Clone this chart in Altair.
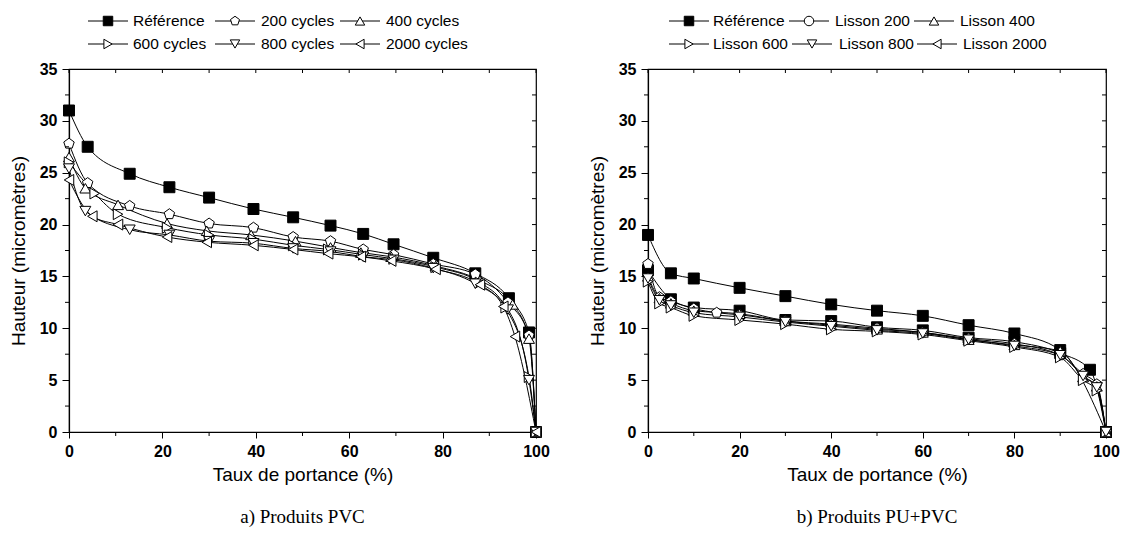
import altair as alt
import pandas as pd

# ---------------- data ----------------
pvc_names = ["Référence", "200 cycles", "400 cycles", "600 cycles", "800 cycles", "2000 cycles"]
pvc_ref_x = [0, 4, 13, 21.5, 30, 39.5, 48, 56, 63, 69.5, 78, 87, 94.2, 98.5, 100]
pvc_ref_y = [31.0, 27.5, 24.9, 23.6, 22.6, 21.5, 20.7, 19.9, 19.1, 18.1, 16.8, 15.3, 12.9, 9.6, 0.0]
pvc_200_x = [0, 4, 13, 21.5, 30, 39.5, 48, 56, 63, 69.5, 78, 87, 94, 98.5, 100]
pvc_200_y = [27.8, 24.0, 21.8, 21.0, 20.1, 19.7, 18.8, 18.4, 17.6, 17.1, 16.2, 15.2, 12.5, 9.3, 0.0]
pvc_400_x = [0, 3.5, 10.5, 21, 29.5, 39, 48.5, 56, 62.5, 69, 78.5, 88, 95, 98.5, 100]
pvc_400_y = [26.5, 23.5, 21.9, 20.1, 19.4, 19.0, 18.4, 17.8, 17.3, 16.9, 16.0, 14.6, 12.3, 9.0, 0.0]
pvc_600_x = [0, 5.5, 10.5, 21, 30, 39.5, 48, 55.5, 63, 69.5, 78.5, 88, 93.5, 98.5, 100]
pvc_600_y = [26.0, 23.0, 21.0, 19.7, 19.0, 18.6, 18.0, 17.6, 17.1, 16.7, 15.9, 14.4, 12.0, 5.3, 0.0]
pvc_800_x = [0, 3.5, 13, 21.5, 30, 39.5, 48, 56, 63, 69.5, 78, 87, 94, 98.5, 100]
pvc_800_y = [25.4, 21.3, 19.5, 19.0, 18.4, 18.2, 17.7, 17.4, 16.9, 16.6, 15.8, 14.3, 11.8, 5.0, 0.0]
pvc_2000_x = [0, 5, 10.5, 21, 29.5, 39.5, 48, 55.5, 62.5, 69, 78.5, 88, 93, 95.5, 100]
pvc_2000_y = [24.3, 20.8, 20.0, 18.8, 18.3, 18.0, 17.6, 17.2, 16.9, 16.5, 15.7, 14.2, 12.1, 9.2, 0.0]

pu_names = ["Référence", "Lisson 200", "Lisson 400", "Lisson 600", "Lisson 800", "Lisson 2000"]
pu_ref_x = [0, 5, 10, 20, 30, 40, 50, 60, 70, 80, 90, 100]
pu_ref_y = [19.0, 15.3, 14.8, 13.9, 13.1, 12.3, 11.7, 11.2, 10.3, 9.5, 7.9, 0.0]
pu_200_x = [0, 5, 10, 20, 30, 40, 50, 60, 70, 80, 90, 96.5, 100]
pu_200_y = [15.6, 12.8, 12.0, 11.7, 10.8, 10.7, 10.1, 9.8, 9.1, 8.7, 7.6, 6.0, 0.0]
pu_400_x = [0, 2.5, 5, 10, 15, 20, 30, 40, 50, 60, 70, 80, 90, 95, 98, 100]
pu_400_y = [16.2, 13.0, 12.6, 11.9, 11.5, 11.3, 10.7, 10.4, 10.0, 9.6, 9.0, 8.5, 7.4, 5.6, 4.6, 0.0]
pu_600_x = [0, 2.5, 5, 10, 20, 30, 40, 50, 60, 70, 80, 90, 95, 98, 100]
pu_600_y = [15.0, 12.9, 12.4, 11.7, 11.4, 10.7, 10.3, 9.9, 9.6, 8.9, 8.4, 7.8, 5.3, 4.4, 0.0]
pu_800_x = [0, 2.5, 5, 10, 20, 30, 40, 50, 60, 70, 80, 90, 95, 98, 100]
pu_800_y = [14.5, 12.4, 12.0, 11.2, 10.8, 10.4, 9.9, 9.7, 9.4, 8.8, 8.2, 7.2, 5.0, 4.0, 0.0]
pu_2000_x = [0, 2.5, 5, 10, 20, 30, 40, 50, 60, 70, 80, 90, 95, 98, 100]
pu_2000_y = [14.8, 12.7, 12.2, 11.5, 11.1, 10.6, 10.2, 9.8, 9.5, 8.9, 8.3, 7.4, 5.4, 4.3, 0.0]

x_major = [0, 20, 40, 60, 80, 100]
x_minor = [10, 30, 50, 70, 90]
x_top = [0, 10, 20, 30, 40, 50, 60, 70, 80, 90, 100]
y_major = [0, 5, 10, 15, 20, 25, 30, 35]
y_minor = [2.5, 7.5, 12.5, 17.5, 22.5, 27.5, 32.5]
y_all = [2.5, 5, 7.5, 10, 12.5, 15, 17.5, 20, 22.5, 25, 27.5, 30, 32.5]

# ---------------- styling ----------------
W1, W2, H = 467, 458, 363
FONT = "Liberation Sans"
PENTAGON = "M0,-1L0.951,-0.309L0.588,0.809L-0.588,0.809L-0.951,-0.309Z"
pvc_shapes = ["square", PENTAGON, "triangle-up", "triangle-right", "triangle-down", "triangle-left"]
pu_shapes = ["square", "circle", "triangle-up", "triangle-right", "triangle-down", "triangle-left"]
fills = ["black", "white", "white", "white", "white", "white"]


def long_frame(names, xs, ys):
    rows = []
    for n, xa, ya in zip(names, xs, ys):
        for a, b in zip(xa, ya):
            rows.append({"series": n, "x": a, "y": b})
    return pd.DataFrame(rows)


def panel(df, names, shapes, legend_layout, subtitle, W):
    xs = alt.Scale(domain=[0, 100], nice=False, zero=False, padding=0)
    ys = alt.Scale(domain=[0, 35], nice=False, padding=0)
    xenc = alt.X("x:Q", scale=xs,
                 axis=alt.Axis(values=x_major, title="Taux de portance (%)", tickSize=6,
                               labelPadding=5, titlePadding=6, grid=False, format="d",
                               labelFlush=False))
    yenc = alt.Y("y:Q", scale=ys,
                 axis=alt.Axis(values=y_major, title="Hauteur (micromètres)", tickSize=7,
                               labelPadding=5, titlePadding=11, grid=False, format="d",
                               labelFlush=False))

    lines = alt.Chart(df).mark_line(color="black", strokeWidth=1, interpolate="monotone").encode(
        x=xenc, y=yenc, detail="series:N")
    pts = alt.Chart(df).mark_point(filled=True, stroke="black", strokeWidth=1, size=120, opacity=1).encode(
        x="x:Q", y="y:Q",
        shape=alt.Shape("series:N", scale=alt.Scale(domain=names, range=shapes), legend=None),
        fill=alt.Fill("series:N", scale=alt.Scale(domain=names, range=fills), legend=None),
    )

    # minor/extra ticks
    xminor_df = pd.DataFrame({"x": x_minor})
    xtop_df = pd.DataFrame({"x": x_top})
    yminor_df = pd.DataFrame({"y": y_minor})
    yall_df = pd.DataFrame({"y": y_all})
    t1 = alt.Chart(xminor_df).mark_rule(color="black", strokeWidth=1).encode(
        x="x:Q", y=alt.value(H), y2=alt.value(H + 4))
    t2 = alt.Chart(xtop_df).mark_rule(color="black", strokeWidth=1).encode(
        x="x:Q", y=alt.value(0), y2=alt.value(4))
    t3 = alt.Chart(yminor_df).mark_rule(color="black", strokeWidth=1).encode(
        y="y:Q", x=alt.value(-4), x2=alt.value(0))
    t4 = alt.Chart(yall_df).mark_rule(color="black", strokeWidth=1).encode(
        y="y:Q", x=alt.value(W - 4), x2=alt.value(W))

    # hand-built legend (two rows of three entries)
    leg_rows = []
    for i, (n, s, f) in enumerate(zip(names, shapes, fills)):
        sx, tx, ly = legend_layout[i]
        leg_rows.append({"label": n, "shape": s, "fill": f,
                         "x1": sx - 20, "x2": sx + 20, "sx": sx, "tx": tx, "ly": ly})
    ldf = pd.DataFrame(leg_rows)
    lrule = alt.Chart(ldf).mark_rule(color="black", strokeWidth=1).encode(
        x=alt.X("x1:Q", scale=None, axis=None), x2="x2:Q",
        y=alt.Y("ly:Q", scale=None, axis=None))
    lpt = alt.Chart(ldf).mark_point(filled=True, stroke="black", strokeWidth=1, size=90, opacity=1).encode(
        x=alt.X("sx:Q", scale=None, axis=None), y=alt.Y("ly:Q", scale=None, axis=None),
        shape=alt.Shape("shape:N", scale=None, legend=None),
        fill=alt.Fill("fill:N", scale=None, legend=None))
    ltxt = alt.Chart(ldf).mark_text(align="left", baseline="middle", font=FONT, fontSize=15.5,
                                    color="black").encode(
        x=alt.X("tx:Q", scale=None, axis=None), y=alt.Y("ly:Q", scale=None, axis=None),
        text="label:N")

    return alt.layer(lines, pts, t1, t2, t3, t4, lrule, lpt, ltxt).properties(
        width=W, height=H,
        title=alt.TitleParams(subtitle, orient="bottom", anchor="middle", font="Liberation Serif",
                              fontSize=19, fontWeight="normal", color="black", offset=24),
    )


pvc_df = long_frame(pvc_names,
                    [pvc_ref_x, pvc_200_x, pvc_400_x, pvc_600_x, pvc_800_x, pvc_2000_x],
                    [pvc_ref_y, pvc_200_y, pvc_400_y, pvc_600_y, pvc_800_y, pvc_2000_y])
pu_df = long_frame(pu_names,
                   [pu_ref_x, pu_200_x, pu_400_x, pu_600_x, pu_800_x, pu_2000_x],
                   [pu_ref_y, pu_200_y, pu_400_y, pu_600_y, pu_800_y, pu_2000_y])

R1, R2 = -48, -25
pvc_layout = [(39, 64, R1), (166, 192, R1), (291, 317, R1),
              (39, 64, R2), (166, 192, R2), (291, 317, R2)]
pu_layout = [(41, 65, R1), (161, 187, R1), (286, 312, R1),
             (41, 65, R2), (164, 191, R2), (289, 315, R2)]

left = panel(pvc_df, pvc_names, pvc_shapes, pvc_layout, "a) Produits PVC", W1)
right = panel(pu_df, pu_names, pu_shapes, pu_layout, "b) Produits PU+PVC", W2)

chart = alt.hconcat(left, right, spacing=37).properties(
    padding={"left": 0, "top": 5, "right": 0, "bottom": 0},
    background="white",
).configure_axis(
    labelFont=FONT, labelFontSize=16, labelFontWeight="bold", labelColor="black",
    titleFont=FONT, titleFontSize=19, titleFontWeight="normal", titleColor="black",
    domainColor="black", tickColor="black", domainWidth=1.2, tickWidth=1,
).configure_view(stroke="black", strokeWidth=1.2)

chart.save("out.html", embed_options={"renderer": "svg", "actions": False})
